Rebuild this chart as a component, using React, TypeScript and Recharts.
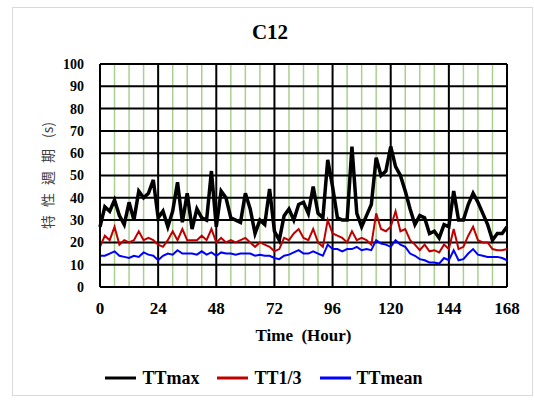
import { CartesianGrid, Label, Line, LineChart, XAxis, YAxis } from "recharts";

// time axis sampled every 2 hours
const hours = Array.from({ length: 85 }, (_, i) => i * 2);

const ttMax = [
    27, 36, 34, 39, 32, 28, 38, 30, 43, 40, 42, 48, 31, 34, 27, 34, 47, 29, 42, 26,
    35, 31, 30, 52, 27, 43, 40, 31, 30, 29, 42, 35, 24, 30, 28, 44, 25, 21, 32, 35,
    30, 37, 38, 33, 45, 33, 31, 57, 45, 31, 30, 30, 63, 33, 27, 32, 37, 58, 50, 52,
    63, 54, 50, 43, 35, 28, 32, 31, 24, 25, 22, 28, 27, 43, 30, 30, 37, 42, 38, 33,
    28, 21, 24, 24, 27,
];

const ttThird = [
    18, 23, 21, 27, 19, 21, 20, 21, 25, 21, 22, 21, 19, 18, 21, 25, 21, 26, 21, 21,
    21, 23, 21, 26, 20, 22, 20, 21, 20, 21, 22, 20, 18, 20, 19, 18, 16, 17, 22, 21,
    24, 26, 22, 21, 26, 20, 18, 30, 24, 23, 22, 20, 25, 21, 22, 21, 19, 33, 26, 25,
    27, 34, 25, 26, 21, 19, 16.5, 19, 16, 16.5, 15.5, 19, 17, 26, 17, 18, 23, 27, 21, 20,
    20, 17, 16.5, 16.5, 17,
];

const ttMean = [
    14, 14, 15, 16, 14, 13.5, 13, 14, 13.5, 15.5, 14.5, 14, 12, 14, 15, 14.5, 16.5, 15, 15, 15,
    14.5, 16, 14.5, 15.5, 14, 15.5, 15, 15, 14.5, 15, 15, 15, 14, 14.5, 14, 14, 13, 12.5, 14, 14.5,
    15.5, 16.5, 15, 15, 16, 15, 14, 19, 17, 17, 16, 17, 17, 18, 16.5, 17, 16.5, 21, 19.5, 19,
    18, 21, 19, 18, 15, 14, 12.5, 12, 11, 11, 10.5, 13, 12, 16.5, 12, 12.5, 15, 17, 14.5, 14,
    13.5, 13.5, 13.5, 13, 12,
];

const xTicks = [0, 24, 48, 72, 96, 120, 144, 168];
const minorTicks = [6, 12, 18, 30, 36, 42, 54, 60, 66, 78, 84, 90, 102, 108, 114, 126, 132, 138, 150, 156, 162];
const yTicks = [0, 10, 20, 30, 40, 50, 60, 70, 80, 90, 100];

const series = [
    { key: "ttMax", name: "TTmax", color: "#000000", width: 3.5 },
    { key: "ttThird", name: "TT1/3", color: "#c00000", width: 2 },
    { key: "ttMean", name: "TTmean", color: "#0000ff", width: 2 },
];

const chartData = hours.map((h, i) => ({
    hour: h,
    ttMax: ttMax[i],
    ttThird: ttThird[i],
    ttMean: ttMean[i],
}));

const serif = "'Liberation Serif', 'Times New Roman', serif";

// vertical y-axis title: spaced CJK characters then "(s)"
function YTitle({ viewBox }: any) {
    const cx = viewBox.x + 7;
    const cy = viewBox.y + viewBox.height / 2;
    return (
        <text
            x={cx}
            y={cy}
            transform={`rotate(-90, ${cx}, ${cy})`}
            textAnchor="middle"
            dominantBaseline="central"
            fontFamily="'Noto Sans CJK TC', sans-serif"
            fontSize={14}
            fill="#404040"
        >
            <tspan letterSpacing={8}>特性週期</tspan>
            <tspan> (s)</tspan>
        </text>
    );
}

export default function App() {
    return (
        <div style={{ position: "absolute", left: 0, top: 0, width: 534, height: 401, background: "#fff" }}>
            <div
                style={{
                    position: "absolute",
                    left: 12,
                    top: 7,
                    width: 521,
                    height: 389,
                    border: "1px solid #d9d9d9",
                    boxSizing: "border-box",
                }}
            />
            <div
                style={{
                    position: "absolute",
                    left: 0,
                    top: 20,
                    width: 540,
                    textAlign: "center",
                    fontFamily: serif,
                    fontWeight: 700,
                    fontSize: 21,
                    lineHeight: "24px",
                }}
            >
                C12
            </div>
            <div style={{ position: "absolute", left: 0, top: 0 }}>
                <LineChart
                    width={534}
                    height={401}
                    data={chartData}
                    margin={{ top: 64, right: 27, bottom: 84, left: 40 }}
                >
                    <CartesianGrid horizontal={false} verticalValues={minorTicks} stroke="#a9d18e" strokeWidth={1.5} />
                    <CartesianGrid stroke="#000" strokeWidth={2} />
                    <XAxis
                        dataKey="hour"
                        type="number"
                        domain={[0, 168]}
                        ticks={xTicks}
                        interval={0}
                        height={30}
                        tickLine={false}
                        tickSize={0}
                        tickMargin={15}
                        axisLine={{ stroke: "#000", strokeWidth: 2 }}
                        tick={{ fontFamily: serif, fontWeight: 700, fontSize: 17, fill: "#000" }}
                    >
                        <Label
                            value={"Time\u00a0\u00a0(Hour)"}
                            position="bottom"
                            offset={12}
                            style={{ fontFamily: serif, fontWeight: 700, fontSize: 17, fill: "#000" }}
                        />
                    </XAxis>
                    <YAxis
                        type="number"
                        domain={[0, 100]}
                        ticks={yTicks}
                        interval={0}
                        width={60}
                        tickLine={false}
                        tickSize={0}
                        tickMargin={16}
                        axisLine={{ stroke: "#000", strokeWidth: 2 }}
                        tick={{ fontFamily: serif, fontWeight: 700, fontSize: 14, fill: "#000" }}
                    >
                        <Label content={<YTitle />} position="insideLeft" />
                    </YAxis>
                    {series.map((s) => (
                        <Line
                            key={s.key}
                            type="linear"
                            dataKey={s.key}
                            name={s.name}
                            stroke={s.color}
                            strokeWidth={s.width}
                            dot={false}
                            isAnimationActive={false}
                        />
                    ))}
                </LineChart>
            </div>
            <div
                style={{
                    position: "absolute",
                    left: 0,
                    top: 366,
                    width: 534,
                    height: 24,
                    display: "flex",
                    justifyContent: "center",
                    alignItems: "center",
                    paddingLeft: 12,
                    boxSizing: "border-box",
                }}
            >
                {series.map((s) => (
                    <div key={s.key} style={{ display: "flex", alignItems: "center", marginRight: 18 }}>
                        <svg width={31} height={4} style={{ marginRight: 6 }}>
                            <line x1={0} y1={2} x2={31} y2={2} stroke={s.color} strokeWidth={3} />
                        </svg>
                        <span style={{ fontFamily: serif, fontWeight: 700, fontSize: 18, color: "#000" }}>{s.name}</span>
                    </div>
                ))}
            </div>
        </div>
    );
}
